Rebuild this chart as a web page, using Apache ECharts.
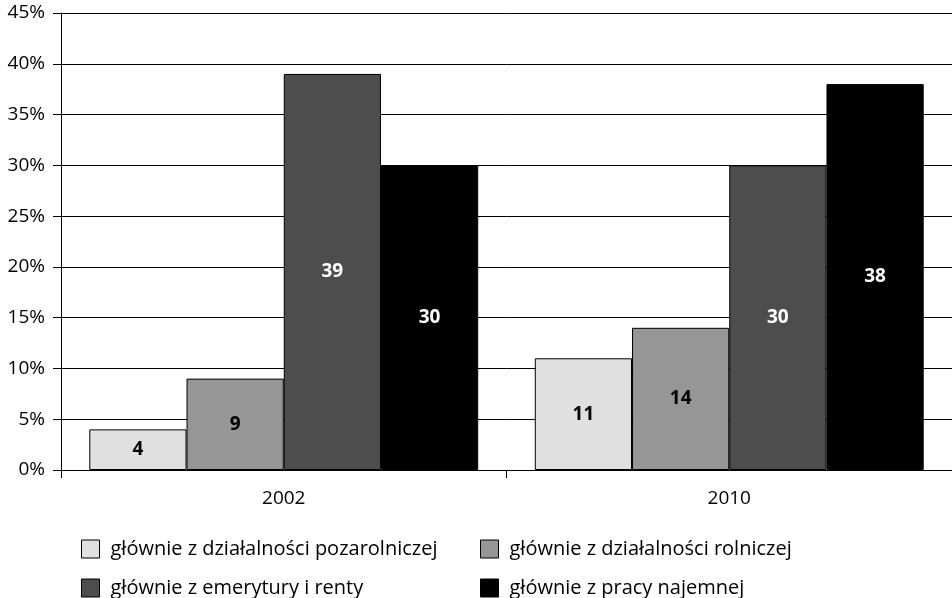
<!DOCTYPE html>
<html><head><meta charset="utf-8">
<script src="https://cdn.jsdelivr.net/npm/echarts@6/dist/echarts.min.js"></script>
<style>html,body{margin:0;padding:0;background:#fff}#c{width:952px;height:598px}</style>
</head><body><div id="c"></div>
<script>
const categories = ['2002', '2010'];
const seriesNames = ['głównie z działalności pozarolniczej', 'głównie z działalności rolniczej', 'głównie z emerytury i renty', 'głównie z pracy najemnej'];
const pozarolnicza = [4, 11];
const rolnicza = [9, 14];
const emerytury = [39, 30];
const najemna = [30, 38];
const yTicks = [0, 5, 10, 15, 20, 25, 30, 35, 40, 45];

const colors = ['#e0e0e0', '#969696', '#4d4d4d', '#000000'];
const labelColors = ['#000', '#000', '#fff', '#fff'];
const values = [pozarolnicza, rolnicza, emerytury, najemna];
const FONT = 'Open Sans';

const chart = echarts.init(document.getElementById('c'), null, {renderer: 'canvas'});
const legendPos = [[81, 539], [480, 539], [81, 578], [480, 578]];
chart.setOption({
  animation: false,
  textStyle: {fontFamily: FONT},
  grid: {left: 61, right: 0, top: 13, bottom: 128, containLabel: false},
  xAxis: {
    type: 'category', data: categories,
    axisLine: {lineStyle: {color: '#000', width: 1}},
    axisTick: {show: true, length: 8, lineStyle: {color: '#000'}},
    axisLabel: {color: '#000', fontSize: 19, fontFamily: FONT, margin: 19}
  },
  yAxis: {
    type: 'value', min: 0, max: 45, interval: 5,
    axisLine: {show: true, lineStyle: {color: '#000', width: 1}},
    axisTick: {show: true, length: 8, lineStyle: {color: '#000'}},
    axisLabel: {color: '#000', fontSize: 19, fontFamily: FONT, margin: 16,
      formatter: v => yTicks.includes(v) ? v + '%' : ''},
    splitLine: {show: true, lineStyle: {color: '#000', width: 1}}
  },
  legend: seriesNames.map((n, i) => ({
    data: [n], left: legendPos[i][0], top: legendPos[i][1], padding: 0,
    itemWidth: 18, itemHeight: 18, itemGap: 10,
    icon: 'rect',
    itemStyle: {borderColor: '#000', borderWidth: 1},
    textStyle: {color: '#000', fontSize: 20, fontFamily: FONT, padding: [0, 0, 0, 6]}
  })),
  series: seriesNames.map((n, i) => ({
    name: n, type: 'bar', data: values[i],
    barGap: '0%', barCategoryGap: '12.7%',
    itemStyle: {color: colors[i], borderColor: '#000', borderWidth: 1},
    label: {show: true, position: 'inside', color: labelColors[i], fontWeight: 'bold', fontSize: 19, fontFamily: FONT}
  }))
});
</script></body></html>
